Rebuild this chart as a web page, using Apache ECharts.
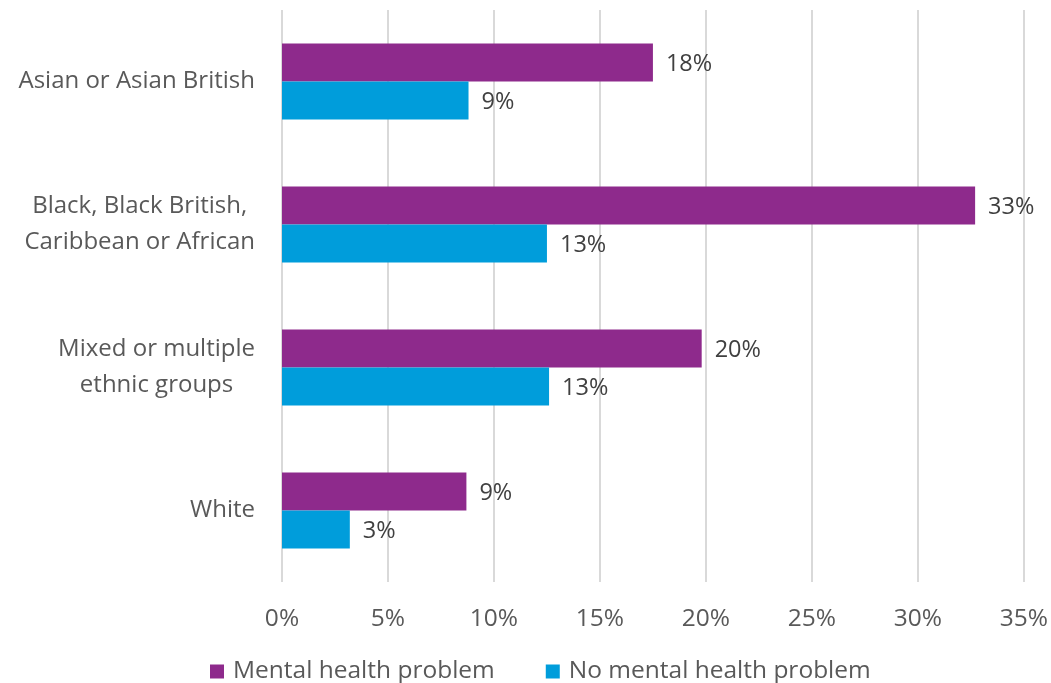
<!DOCTYPE html>
<html>
<head>
<meta charset="utf-8">
<script src="https://cdn.jsdelivr.net/npm/echarts@6/dist/echarts.min.js"></script>
<style>html,body{margin:0;padding:0;background:#fff;}#c{width:1051px;height:683px;}</style>
</head>
<body>
<div id="c"></div>
<script>
const categories = ['Asian or Asian British', 'Black, Black British,\nCaribbean or African', 'Mixed or multiple\nethnic groups', 'White'];
const seriesNames = ['Mental health problem', 'No mental health problem'];
const mentalHealth = [17.5, 32.7, 19.8, 8.7];
const noMentalHealth = [8.8, 12.5, 12.6, 3.2];
const xTicks = [0, 5, 10, 15, 20, 25, 30, 35];

const FONT = 'Open Sans';
const chart = echarts.init(document.getElementById('c'));
const labelStyle = {
  show: true, position: 'right', distance: 13, offset: [0, 2],
  color: '#404040', fontSize: 23.5, fontFamily: FONT,
  formatter: p => Math.round(p.value) + '%'
};
chart.setOption({
  animation: false,
  textStyle: { fontFamily: FONT },
  grid: { left: 282, right: 27, top: 10, bottom: 101, containLabel: false },
  legend: {
    top: 654, left: 205, itemWidth: 14, itemHeight: 14, itemGap: 51,
    icon: 'rect',
    textStyle: { fontSize: 24.5, color: '#595959', fontFamily: FONT, padding: [0, 0, 0, 4] },
    data: seriesNames
  },
  xAxis: {
    type: 'value', min: xTicks[0], max: xTicks[xTicks.length - 1], interval: 5,
    axisLine: { show: false }, axisTick: { show: false },
    splitLine: { lineStyle: { color: '#d9d9d9', width: 2 } },
    axisLabel: { formatter: v => v + '%', fontSize: 24.5, color: '#595959', margin: 25, fontFamily: FONT }
  },
  yAxis: {
    type: 'category', data: categories, inverse: true,
    axisLine: { show: false }, axisTick: { show: false },
    axisLabel: {
      margin: 27, fontSize: 24, color: '#595959', fontFamily: FONT, align: 'right',
      formatter: v => v.split('\n').map(s => '{c|' + s + '}').join('\n'),
      rich: { c: { align: 'center', fontSize: 24, color: '#595959', fontFamily: FONT, lineHeight: 36 } }
    }
  },
  series: [
    { name: seriesNames[0], type: 'bar', data: mentalHealth, barGap: '0%', barCategoryGap: '47%',
      itemStyle: { color: '#8E2A8C' }, label: labelStyle },
    { name: seriesNames[1], type: 'bar', data: noMentalHealth,
      itemStyle: { color: '#009DDB' }, label: labelStyle }
  ]
});
</script>
</body>
</html>
